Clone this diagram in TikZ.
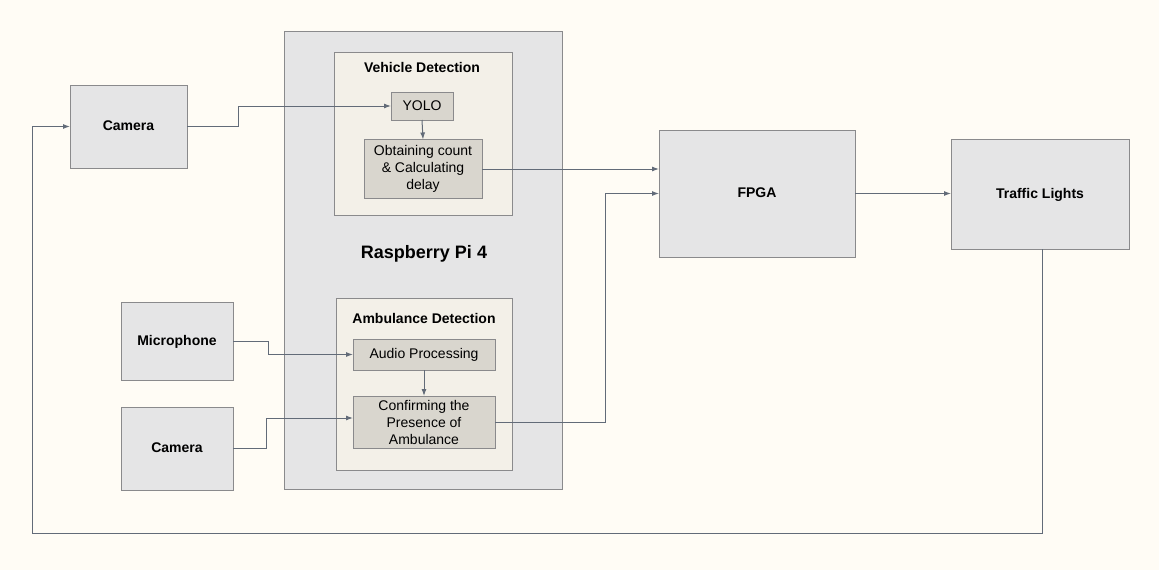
\documentclass[tikz,border=0pt]{standalone}
\usepackage{fontspec}
\setmainfont{Liberation Sans}
\usetikzlibrary{arrows.meta}
\definecolor{bgc}{HTML}{FFFCF5}
\definecolor{boxg}{HTML}{E5E5E6}
\definecolor{boxb}{HTML}{8A8A8C}
\definecolor{beige}{HTML}{F3F0E8}
\definecolor{inner}{HTML}{D9D6CE}
\definecolor{linec}{HTML}{626B78}
\tikzset{
  base/.style={draw=boxb, line width=1pt, inner sep=0pt, outer sep=0pt, align=center,
    font=\fontsize{14}{17}\selectfont},
  dev/.style={base, fill=boxg, font=\fontsize{14}{17}\selectfont\bfseries, text height=10pt, text depth=2pt},
  grp/.style={base, fill=beige},
  proc/.style={base, fill=inner},
  one/.style={text height=10pt, text depth=2pt},
  arr/.style={draw=linec, line width=1pt, -{Latex[length=7pt,width=5pt]}},
  ttl/.style={font=\fontsize{14}{17}\selectfont\bfseries, inner sep=0pt, text height=10pt, text depth=2pt}
}
\begin{document}
\begin{tikzpicture}[x=1pt,y=-1pt]
\fill[bgc] (0,0) rectangle (1159,570);
\useasboundingbox (0,0) rectangle (1159,570);
% Raspberry Pi outer
\node[base, fill=boxg, minimum width=278pt, minimum height=458pt] (rpi) at (423,260) {};
\node[font=\fontsize{18}{21}\selectfont\bfseries, inner sep=0pt, text height=13pt, text depth=3pt] (rpil) at (424,253) {Raspberry Pi 4};
% groups
\node[grp, minimum width=178pt, minimum height=163pt] (veh) at (423,133.5) {};
\node[ttl] (vehl) at (422,68) {Vehicle Detection};
\node[grp, minimum width=176pt, minimum height=172pt] (amb) at (424,384) {};
\node[ttl] (ambl) at (424,319) {Ambulance Detection};
% processes
\node[proc, one, minimum width=62pt, minimum height=28pt] (yolo) at (422,106) {YOLO};
\node[proc, minimum width=118pt, minimum height=59pt] (obt) at (423,169) {Obtaining count\\\& Calculating\\delay};
\node[proc, one, minimum width=142pt, minimum height=31pt] (audio) at (424,354.5) {Audio Processing};
\node[proc, minimum width=142pt, minimum height=52pt] (conf) at (424,422) {Confirming the\\Presence of\\Ambulance};
% devices
\node[dev, minimum width=117pt, minimum height=83pt] (cam1) at (128.5,126.5) {Camera};
\node[dev, minimum width=112pt, minimum height=78pt] (mic) at (177,341) {Microphone};
\node[dev, minimum width=112pt, minimum height=83pt] (cam2) at (177,448.5) {Camera};
\node[dev, minimum width=196pt, minimum height=127pt] (fpga) at (757,193.5) {FPGA};
\node[dev, minimum width=178pt, minimum height=110pt] (tl) at (1040,194) {Traffic Lights};
% connectors
\draw[arr] (cam1.east) -- ++(51,0) |- (yolo.west);
\draw[arr] (yolo.south) -- (obt.north);
\draw[arr] (obt.east) -- (fpga.west |- obt.east);
\draw[arr] (mic.east) -- ++(35,0) |- (audio.west);
\draw[arr] (audio.south) -- (conf.north);
\draw[arr] (cam2.east) -- ++(33,0) |- ([yshift=4pt]conf.west);
\draw[arr] (conf.east) -| ([xshift=-54pt]fpga.west) -- (fpga.west);
\draw[arr] (fpga.east) -- (tl.west |- fpga.east);
\coordinate (fb1) at (1042,533);
\coordinate (fb2) at (32,533);
\coordinate (fb3) at (32,126.5);
\draw[arr] (tl.south -| fb1) -- (fb1) -- (fb2) -- (fb3) -- (cam1.west);
\end{tikzpicture}
\end{document}
